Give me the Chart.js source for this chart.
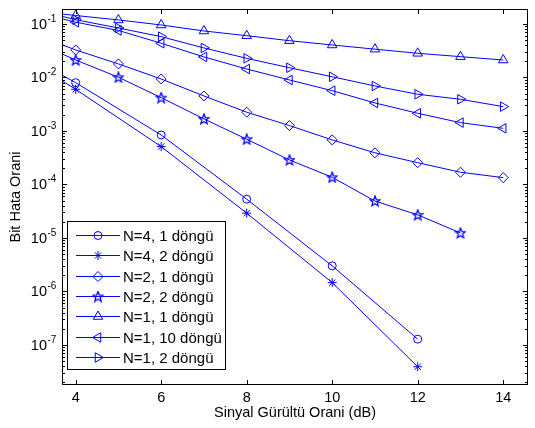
<!DOCTYPE html>
<html>
<head>
<meta charset="utf-8">
<script src="https://cdn.jsdelivr.net/npm/chart.js@4.4.1/dist/chart.umd.min.js"></script>
<style>
  html, body { margin: 0; padding: 0; background: #fff; }
  #wrap { width: 535px; height: 428px; }
</style>
</head>
<body>
<div id="wrap"><canvas id="berChart"></canvas></div>
<script>
// SNR values (dB); x=3 points lie left of the visible axis, lines run into the edge
const snrStep1 = [3, 4, 5, 6, 7, 8, 9, 10, 11, 12, 13, 14];
const snrStep2 = [3, 4, 6, 8, 10, 12];
const snrTo13 = [3, 4, 5, 6, 7, 8, 9, 10, 11, 12, 13];

const berN4L1 = [0.022, 8.0e-3, 8.4e-4, 5.3e-5, 3.0e-6, 1.28e-7];
const berN4L2 = [0.019, 6.0e-3, 5.1e-4, 2.9e-5, 1.46e-6, 3.9e-8];
const berN2L1 = [0.066, 0.0327, 0.0179, 0.00937, 0.00451, 0.00224, 0.00126, 6.8e-4, 3.9e-4, 2.55e-4, 1.69e-4, 1.34e-4];
const berN2L2 = [0.048, 0.0212, 0.0101, 0.00419, 0.00168, 7.0e-4, 2.87e-4, 1.36e-4, 4.9e-5, 2.7e-5, 1.24e-5];
const berN1L1 = [0.175, 0.144, 0.119, 0.0958, 0.074, 0.0604, 0.0487, 0.0405, 0.0338, 0.0283, 0.0245, 0.0212];
const berN1L10 = [0.17, 0.108, 0.0757, 0.0436, 0.0242, 0.0144, 0.00898, 0.00566, 0.00334, 0.00214, 0.00143, 0.00112];
const berN1L2 = [0.19, 0.12, 0.084, 0.058, 0.0356, 0.0228, 0.0152, 0.0103, 0.00693, 0.00485, 0.00391, 0.00285];

const seriesLabels = ['N=4, 1 döngü', 'N=4, 2 döngü', 'N=2, 1 döngü', 'N=2, 2 döngü',
                      'N=1, 1 döngü', 'N=1, 10 döngü', 'N=1, 2 döngü'];
const xTicks = [4, 6, 8, 10, 12, 14];
const yDecades = [-7, -6, -5, -4, -3, -2, -1];

const BLUE = '#0000ff';
const FONT = 'Liberation Sans, Arial, Helvetica, sans-serif';

// pentagram marker (Chart.js has none built in)
function makePentagram() {
    const c = document.createElement('canvas');
    c.width = 12; c.height = 12;
    const g = c.getContext('2d');
    g.strokeStyle = BLUE;
    g.lineWidth = 1.3;
    g.beginPath();
    for (let i = 0; i < 10; i++) {
        const r = i % 2 === 0 ? 5.3 : 2.3;
        const a = -Math.PI / 2 + i * Math.PI / 5;
        const px = 6 + r * Math.cos(a), py = 6.4 + r * Math.sin(a);
        if (i === 0) g.moveTo(px, py); else g.lineTo(px, py);
    }
    g.closePath();
    g.stroke();
    return c;
}
const pentagram = makePentagram();

function pts(xs, ys) {
    return xs.map((x, i) => ({ x: x, y: ys[i] }));
}

const markers = [
    { pointStyle: 'circle', radius: 4, rotation: 0 },
    { pointStyle: 'star', radius: 4.5, rotation: 0 },
    { pointStyle: 'rectRot', radius: 5, rotation: 0 },
    { pointStyle: pentagram, radius: 6, rotation: 0 },
    { pointStyle: 'triangle', radius: 5.5, rotation: 0 },
    { pointStyle: 'triangle', radius: 5.5, rotation: -90 },
    { pointStyle: 'triangle', radius: 5.5, rotation: 90 }
];
const seriesData = [
    pts(snrStep2, berN4L1), pts(snrStep2, berN4L2),
    pts(snrStep1, berN2L1), pts(snrTo13, berN2L2),
    pts(snrStep1, berN1L1), pts(snrStep1, berN1L10), pts(snrStep1, berN1L2)
];

const datasets = seriesData.map((d, i) => ({
    label: seriesLabels[i],
    data: d,
    borderColor: BLUE,
    borderWidth: 1,
    backgroundColor: 'rgba(0,0,0,0)',
    pointBorderColor: BLUE,
    pointBackgroundColor: 'rgba(0,0,0,0)',
    pointBorderWidth: 1,
    pointStyle: markers[i].pointStyle,
    pointRadius: markers[i].radius,
    pointRotation: markers[i].rotation,
    tension: 0,
    fill: false
}));

// box, inward ticks, y labels with exponents, legend
const matlabAxes = {
    id: 'matlabAxes',
    afterDraw(chart) {
        const ctx = chart.ctx;
        const a = chart.chartArea;
        const xs = chart.scales.x, ys = chart.scales.y;
        ctx.save();
        ctx.strokeStyle = '#000';
        ctx.lineWidth = 1;
        ctx.strokeRect(a.left + 0.5, a.top + 0.5, a.right - a.left - 1, a.bottom - a.top - 1);

        ctx.beginPath();
        xTicks.forEach(v => {
            const px = Math.round(xs.getPixelForValue(v)) + 0.5;
            ctx.moveTo(px, a.bottom); ctx.lineTo(px, a.bottom - 5);
            ctx.moveTo(px, a.top); ctx.lineTo(px, a.top + 5);
        });
        for (let d = -8; d <= -1; d++) {
            for (let k = 1; k <= 9; k++) {
                const v = k * Math.pow(10, d);
                if (v < ys.min || v > ys.max) continue;
                const py = Math.round(ys.getPixelForValue(v)) + 0.5;
                const len = k === 1 ? 5 : 3;
                ctx.moveTo(a.left, py); ctx.lineTo(a.left + len, py);
                ctx.moveTo(a.right, py); ctx.lineTo(a.right - len, py);
            }
        }
        ctx.stroke();

        ctx.fillStyle = '#000';
        yDecades.forEach(d => {
            const py = ys.getPixelForValue(Math.pow(10, d));
            ctx.font = '14.5px ' + FONT;
            ctx.textAlign = 'right';
            ctx.textBaseline = 'middle';
            ctx.fillText('10', 47, py + 1);
            ctx.font = '10px ' + FONT;
            ctx.textAlign = 'left';
            ctx.fillText('-' + Math.abs(d), 47.5, py - 5);
        });

        // legend
        const lx = 67.5, ly = 221.5, lw = 158, lh = 148;
        ctx.fillStyle = '#fff';
        ctx.fillRect(lx, ly, lw, lh);
        ctx.strokeStyle = '#000';
        ctx.strokeRect(lx, ly, lw, lh);
        ctx.font = '15px ' + FONT;
        ctx.textAlign = 'left';
        ctx.textBaseline = 'middle';
        seriesLabels.forEach((lab, i) => {
            const ry = Math.round(235 + i * 20.3) + 0.5;
            ctx.strokeStyle = BLUE;
            ctx.beginPath();
            ctx.moveTo(76, ry); ctx.lineTo(120, ry);
            ctx.stroke();
            ctx.fillStyle = 'rgba(0,0,0,0)';
            ctx.lineWidth = 1;
            Chart.helpers.drawPoint(ctx, {
                pointStyle: markers[i].pointStyle,
                radius: markers[i].radius,
                rotation: markers[i].rotation,
                borderWidth: 1
            }, 98, ry);
            ctx.fillStyle = '#000';
            ctx.fillText(lab, 123, ry + 1);
        });
        ctx.restore();
    }
};

const ctx = document.getElementById('berChart').getContext('2d');
const berChart = new Chart(ctx, {
    type: 'line',
    data: { datasets: datasets },
    options: {
        responsive: true,
        maintainAspectRatio: false,
        animation: false,
        layout: { padding: { top: 9, right: 0, left: 0, bottom: 0 } },
        plugins: {
            legend: { display: false },
            tooltip: { enabled: false }
        },
        scales: {
            x: {
                type: 'linear',
                min: 3.68,
                max: 14.58,
                afterBuildTicks: function(scale) {
                    scale.ticks = xTicks.map(v => ({ value: v }));
                },
                afterFit: function(scale) { scale.height = 43; },
                grid: { display: false, drawTicks: false },
                border: { display: false },
                ticks: { color: '#000', padding: 4, maxRotation: 0, font: { family: FONT, size: 14.5 } },
                title: {
                    display: true,
                    text: 'Sinyal Gürültü Orani (dB)',
                    color: '#000',
                    font: { family: FONT, size: 14.5 },
                    padding: { top: 0, bottom: 6 }
                }
            },
            y: {
                type: 'logarithmic',
                min: Math.pow(10, -7.75),
                max: Math.pow(10, -0.72),
                afterFit: function(scale) { scale.width = 62; },
                grid: { display: false, drawTicks: false },
                border: { display: false },
                ticks: { display: false },
                title: {
                    display: true,
                    text: 'Bit Hata Orani',
                    color: '#000',
                    font: { family: FONT, size: 14.5 },
                    padding: { top: 7, bottom: 0 }
                }
            }
        }
    },
    plugins: [matlabAxes]
});
</script>
</body>
</html>
